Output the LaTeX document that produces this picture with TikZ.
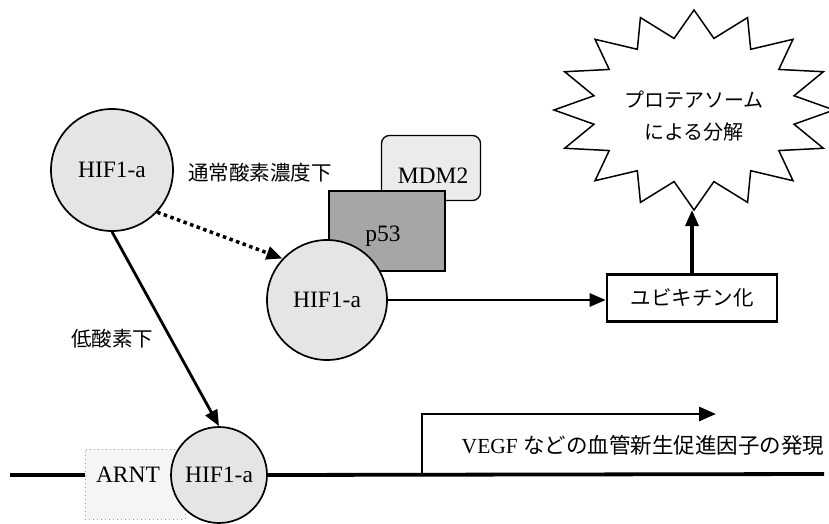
\documentclass[tikz,border=0pt]{standalone}
\usepackage{fontspec}
\setmainfont{Liberation Serif}
\newfontfamily\jp{Noto Sans CJK JP}
\usetikzlibrary{arrows.meta}
\tikzset{
  lat/.style={font=\fontsize{23.5pt}{27pt}\selectfont},
  jtext/.style={font=\jp\fontsize{20.5pt}{24pt}\selectfont},
  mol/.style={circle, draw=black, line width=1.7pt, fill=black!10, minimum size=#1, inner sep=0pt, lat},
  arr/.style={line width=2.8pt, -{Triangle[length=16pt,width=13pt]}},
  dotarr/.style={line width=3.5pt, dash pattern=on 3.5pt off 3.5pt, -{Triangle[length=16pt,width=13pt]}},
  dna/.style={line width=3.8pt},
}
\begin{document}
\begin{tikzpicture}[x=1pt,y=-1pt]
\useasboundingbox (0,0) rectangle (829,524);
% complex boxes
\node[draw=black, line width=1.3pt, rounded corners=8pt, fill=black!8, minimum width=99pt, minimum height=65pt] (mdm2) at (431,168) {};
\node[lat] (mdm2t) at (433,176) {MDM2};
\node[draw=black, line width=2.8pt, fill=black!35, minimum width=116pt, minimum height=80pt] (p53) at (387,231) {};
\node[lat] (p53t) at (383,236) {p53};
% molecules
\node[mol=122pt] (A) at (112,170) {HIF1-a};
\node[mol=120pt] (B) at (327,300) {HIF1-a};
\node[draw=black!40, dash pattern=on 1pt off 3pt, fill=black!4, minimum width=100pt, minimum height=70pt] (arntbox) at (135,484) {};
\node[lat] (arnt) at (128,475) {ARNT};
\node[mol=96pt] (C) at (219,475) {HIF1-a};
% labels
\node[jtext] (normox) at (260,173) {通常酸素濃度下};
\node[jtext] (hypox) at (112,339) {低酸素下};
% ubiquitination box
\node[draw=black, line width=2.6pt, fill=white, minimum width=170pt, minimum height=47pt, jtext] (ubq) at (692,298) {ユビキチン化};
% star
\begin{scope}[shift={(694,110)}]
\draw[line width=1.5pt, fill=white] (90:140 and 100)
  \foreach \i in {0,...,15} { -- ({101.25+\i*22.5}:102 and 73) -- ({112.5+\i*22.5}:140 and 100) } -- cycle;
\end{scope}
\node[align=center, font=\jp\fontsize{20pt}{32pt}\selectfont] (prot) at (694,116) {プロテアソーム\\による分解};
\coordinate (starbot) at (692,210);
% connectors
\draw[dotarr] (A.-43) -- (B.137);
\draw[arr] (A.south) -- (C.north);
\draw[arr] (B.east) -- (B.east -| ubq.west);
\draw[arr, line width=3.4pt] (ubq.north) -- (starbot);
% DNA
\coordinate (dnaL) at (10,475);
\coordinate (dnaR) at (824,474);
\coordinate (prom) at (422,474);
\coordinate (promtip) at (716,414);
\draw[dna] (dnaL) -- (arntbox.west |- dnaL);
\draw[dna] (C.east) -- (dnaR);
\draw[line width=2.8pt, -{Triangle[length=17pt,width=14pt]}] (prom) |- (promtip);
\node[font=\fontsize{21.5pt}{24pt}\selectfont] (vegf) at (643,445) {VEGF {\jp などの血管新生促進因子の発現}};
\end{tikzpicture}
\end{document}
